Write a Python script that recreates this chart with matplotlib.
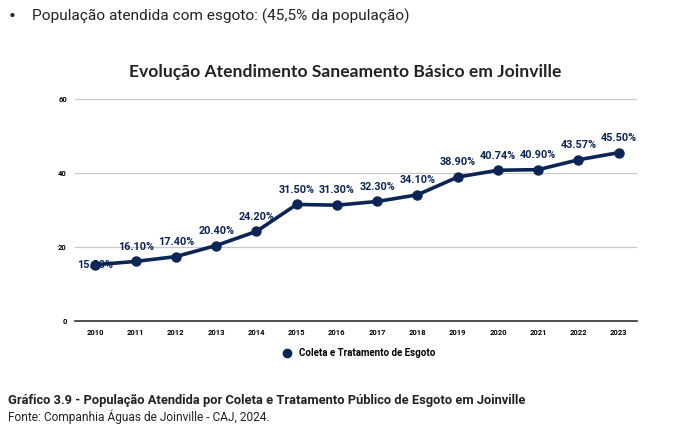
import matplotlib
matplotlib.use("Agg")
import matplotlib.pyplot as plt
from matplotlib.lines import Line2D

anos = [2010, 2011, 2012, 2013, 2014, 2015, 2016, 2017, 2018, 2019, 2020, 2021, 2022, 2023]
atendimento = [15.20, 16.10, 17.40, 20.40, 24.20, 31.50, 31.30, 32.30, 34.10, 38.90, 40.74, 40.90, 43.57, 45.50]
rotulos = ["15.20%", "16.10%", "17.40%", "20.40%", "24.20%", "31.50%", "31.30%", "32.30%",
           "34.10%", "38.90%", "40.74%", "40.90%", "43.57%", "45.50%"]
yticks = [0, 20, 40, 60]

navy = "#0c2557"
narrow = ["Roboto", "DejaVu Sans"]

fig = plt.figure(figsize=(6.9, 4.33), dpi=100)
ax = fig.add_axes([0.109, 0.2587, 0.814, 0.5127])

ax.plot(anos, atendimento, color=navy, lw=2.6, marker="o", ms=6.5, zorder=3)
for i, (x, y) in enumerate(zip(anos, atendimento)):
    if i == 0:
        ax.text(x, y, rotulos[i], ha="center", va="center", fontsize=7.8,
                color=navy, fontweight="bold", family=narrow, zorder=4)
    else:
        ax.annotate(rotulos[i], (x, y), xytext=(0, 7), textcoords="offset points",
                    ha="center", va="bottom", fontsize=7.8, color=navy,
                    fontweight="bold", family=narrow, zorder=4)

ax.set_xlim(2009.5, 2023.45)
ax.set_ylim(0, 60)
ax.set_xticks(anos)
ax.set_xticklabels([str(a) for a in anos])
ax.set_yticks(yticks)
ax.grid(axis="y", color="#c8c8c8", lw=0.9)
ax.set_axisbelow(True)
for s in ["top", "right", "left"]:
    ax.spines[s].set_visible(False)
ax.spines["bottom"].set_color("#333333")
ax.spines["bottom"].set_linewidth(1.2)
ax.tick_params(length=0, labelsize=5.5, pad=6)
for lab in ax.get_xticklabels() + ax.get_yticklabels():
    lab.set_fontweight("bold")
    lab.set_family(narrow)

leg = ax.legend([Line2D([], [], ls="", marker="o", color=navy, ms=6)],
                ["Coleta e Tratamento de Esgoto"], loc="center",
                bbox_to_anchor=(0.5, -0.145), frameon=False, handletextpad=0.2,
                prop={"family": narrow, "weight": "bold", "size": 7})

fig.text(0.5, 0.833, "Evolução Atendimento Saneamento Básico em Joinville", ha="center",
         va="center", fontsize=12.6, fontweight="bold", family=["Lato", "DejaVu Sans"],
         color="#222222")

fig.text(0.012, 0.962, "•", ha="left", va="center", fontsize=15, family=narrow, color="#222222")
fig.text(0.047, 0.962, "População atendida com esgoto: (45,5% da população)", ha="left",
         va="center", fontsize=11.1, family=narrow, color="#222222")
fig.text(0.012, 0.075, "Gráfico 3.9 - População Atendida por Coleta e Tratamento Público de Esgoto em Joinville",
         ha="left", va="center", fontsize=9.3, fontweight="bold", family=narrow, color="#222222")
fig.text(0.012, 0.038, "Fonte: Companhia Águas de Joinville - CAJ, 2024.", ha="left",
         va="center", fontsize=8.6, family=narrow, color="#222222")

fig.savefig("out.png", dpi=100)
